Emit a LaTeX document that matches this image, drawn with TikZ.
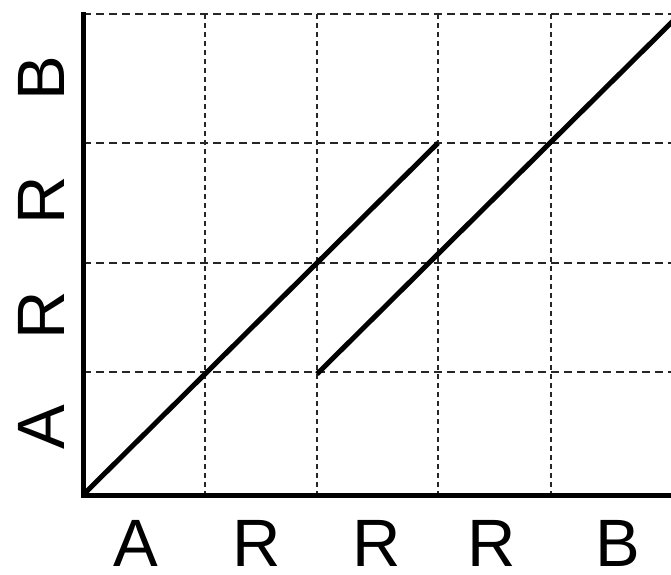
\documentclass[tikz,border=0pt]{standalone}
\usepackage{fontspec}
\setmainfont{Liberation Sans}
\begin{document}
\begin{tikzpicture}[x=1pt,y=-1pt,
  axisline/.style={line width=5pt,line cap=rect},
  diag/.style={line width=5pt},
  hgrid/.style={line width=1.6pt,draw=black!85,dash pattern=on 8pt off 5pt},
  vgrid/.style={line width=1.6pt,draw=black!85,dash pattern=on 5pt off 4pt},
  lbl/.style={inner sep=0pt,font=\fontsize{67}{80}\selectfont}]
\useasboundingbox (0,0) rectangle (671,574);
\begin{scope}
\clip (0,0) rectangle (671,574);
% grid
\foreach \y in {14,143,263,372} \draw[hgrid] (83,\y) -- (680,\y);
\foreach \x in {205,317,438,551} \draw[vgrid] (\x,14) -- (\x,495);
% axes
\coordinate (o) at (83,495);
\coordinate (ytop) at (83,14);
\coordinate (xend) at (680,495);
\draw[axisline] (ytop) -- (o) -- (xend);
% diagonals
\coordinate (d1e) at (438,143);
\coordinate (d2s) at (317,374);
\coordinate (d2e) at (678,16);
\draw[diag] (o) -- (d1e);
\draw[diag] (d2s) -- (d2e);
\end{scope}
% x labels
\node[lbl] (xa) at (136,543) {A};
\node[lbl] (xr1) at (257,543) {R};
\node[lbl] (xr2) at (377,543) {R};
\node[lbl] (xr3) at (492,543) {R};
\node[lbl] (xb) at (618,543) {B};
% y labels
\node[lbl,rotate=90] (ya) at (41,427) {A};
\node[lbl,rotate=90] (yr1) at (41,315) {R};
\node[lbl,rotate=90] (yr2) at (41,200) {R};
\node[lbl,rotate=90] (yb) at (41,78) {B};
\end{tikzpicture}
\end{document}
